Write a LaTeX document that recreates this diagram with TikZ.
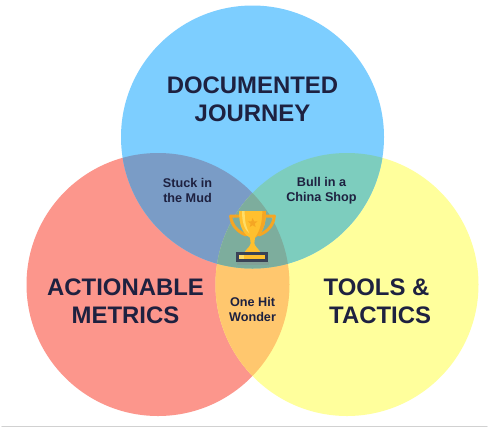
\documentclass[tikz,border=0pt]{standalone}
\usepackage{fontspec}
\setmainfont{Liberation Sans}
\usetikzlibrary{shapes.geometric}
\definecolor{bluecirc}{HTML}{7DCEFF}
\definecolor{redcirc}{HTML}{FC968C}
\definecolor{yellowcirc}{HTML}{FFFF9C}
\definecolor{bluered}{HTML}{7A9CC6}
\definecolor{blueyellow}{HTML}{7DCDBE}
\definecolor{redyellow}{HTML}{FFC76E}
\definecolor{centrepart}{HTML}{7DAD9D}
\definecolor{inkdark}{HTML}{1E2140}
\definecolor{cupgold}{HTML}{FFC02E}
\definecolor{cupdark}{HTML}{F5A623}
\definecolor{cuplight}{HTML}{FFDD66}
\definecolor{basedark}{HTML}{3A4256}
\tikzset{
  bigtext/.style={font=\bfseries\fontsize{13.6pt}{16pt}\selectfont, text=inkdark, align=center},
  smalltext/.style={font=\bfseries\fontsize{7.2pt}{8.6pt}\selectfont, text=inkdark, align=center}
}
\begin{document}
\begin{tikzpicture}[line join=round, line cap=round]
  \useasboundingbox (0,0) rectangle (9.76,8.56);
  \fill[white] (0,0) rectangle (9.76,8.56);
  % --- circles ---------------------------------------------------
  \fill[redcirc] (3.16,2.87) circle [radius=2.63];
  \fill[yellowcirc] (6.94,2.87) circle [radius=2.63];
  \fill[bluecirc] (5.05,5.82) circle [radius=2.63];
  % --- overlaps --------------------------------------------------
  \begin{scope}
    \clip (3.16,2.87) circle [radius=2.63];
    \fill[bluered] (5.05,5.82) circle [radius=2.63];
    \fill[redyellow] (6.94,2.87) circle [radius=2.63];
  \end{scope}
  \begin{scope}
    \clip (6.94,2.87) circle [radius=2.63];
    \fill[blueyellow] (5.05,5.82) circle [radius=2.63];
    \clip (5.05,5.82) circle [radius=2.63];
    \fill[centrepart] (3.16,2.87) circle [radius=2.63];
  \end{scope}
  % --- bottom rule -----------------------------------------------
  \draw[black!18, line width=0.6pt] (0.04,0.03) -- (9.74,0.03);
  % --- trophy ----------------------------------------------------
  \begin{scope}[shift={(4.0,4.76)}, x=0.00667cm, y=-0.00667cm]
    % shadow
    \fill[black!45, opacity=0.35] (110,216) rectangle (206,226);
    % handles
    \draw[cupdark, line width=1.7pt] (117,78) -- (92,78) .. controls (94,105) and (112,125) .. (138,135);
    \draw[cupdark, line width=1.7pt] (198,78) -- (223,78) .. controls (221,105) and (203,125) .. (177,135);
    % cup
    \fill[cupgold] (117,63) -- (198,63) .. controls (198,105) and (188,130) .. (165,143)
      -- (163,160) .. controls (165,170) and (175,176) .. (181,186) -- (134,186)
      .. controls (140,176) and (150,170) .. (152,160) -- (150,143)
      .. controls (127,130) and (117,105) .. cycle;
    \fill[cuplight] (126,63) -- (134,63) .. controls (134,95) and (138,112) .. (148,130)
      .. controls (132,118) and (126,95) .. cycle;
    \fill[cupdark] (198,63) .. controls (198,105) and (188,130) .. (165,143)
      .. controls (178,125) and (187,100) .. (187,63) -- cycle;
    % star
    \node[star, star points=5, star point ratio=2.3, fill=cupdark, minimum size=0.2cm, inner sep=0pt] (cupstar) at (158,99) {};
    % base
    \fill[basedark] (108,186) rectangle (204,216);
    \fill[cupgold] (117,195) rectangle (195,207);
    \fill[cuplight] (117,195) rectangle (133,207);
  \end{scope}
  % --- labels ----------------------------------------------------
  \node[bigtext] (journey) at (5.05,6.58) {DOCUMENTED\\JOURNEY};
  \node[bigtext] (metrics) at (2.51,2.54) {ACTIONABLE\\METRICS};
  \node[bigtext] (tools) at (7.53,2.54) {TOOLS \&\\\hspace*{0.3em}TACTICS};
  \node[smalltext] (mud) at (3.75,4.75) {Stuck in\\the Mud};
  \node[smalltext] (china) at (6.43,4.75) {Bull in a\\China Shop};
  \node[smalltext] (wonder) at (5.05,2.37) {One Hit\\Wonder};
\end{tikzpicture}
\end{document}
